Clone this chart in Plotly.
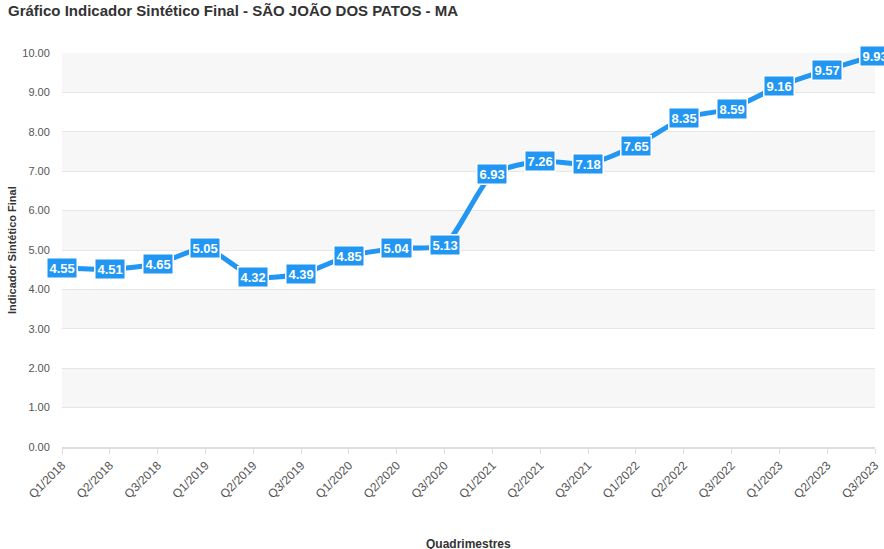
import plotly.graph_objs as go

quadrimestres = ['Q1/2018', 'Q2/2018', 'Q3/2018', 'Q1/2019', 'Q2/2019', 'Q3/2019',
                 'Q1/2020', 'Q2/2020', 'Q3/2020', 'Q1/2021', 'Q2/2021', 'Q3/2021',
                 'Q1/2022', 'Q2/2022', 'Q3/2022', 'Q1/2023', 'Q2/2023', 'Q3/2023']
indicador = [4.55, 4.51, 4.65, 5.05, 4.32, 4.39, 4.85, 5.04, 5.13,
             6.93, 7.26, 7.18, 7.65, 8.35, 8.59, 9.16, 9.57, 9.93]
y_ticks = [0, 1, 2, 3, 4, 5, 6, 7, 8, 9, 10]

blue = 'rgb(33,150,243)'
font = 'Liberation Sans, Arial, sans-serif'

trace = go.Scatter(
    x=quadrimestres,
    y=indicador,
    mode='lines',
    line=dict(color=blue, width=5, shape='spline', smoothing=0.6),
    hoverinfo='x+y'
)
fig = go.Figure(data=[trace])

# alternating background bands
for i in range(1, len(y_ticks) - 1, 2):
    fig.add_shape(type='rect', xref='paper', yref='y', x0=0, x1=1,
                  y0=y_ticks[i], y1=y_ticks[i + 1],
                  fillcolor='#f7f7f7', line=dict(width=0), layer='below')

# value labels
for q, v in zip(quadrimestres, indicador):
    fig.add_annotation(x=q, y=v, xref='x', yref='y', text='<b>%.2f</b>' % v,
                       showarrow=False, bgcolor=blue, bordercolor='white',
                       borderwidth=1.5, borderpad=2,
                       font=dict(family=font, size=13, color='white'))

# axis titles placed by hand
fig.add_annotation(x=0.5, y=0, xref='paper', yref='paper', yanchor='top',
                   yshift=-88, showarrow=False, text='<b>Quadrimestres</b>',
                   font=dict(family=font, size=12, color='#333'))
fig.add_annotation(x=0, y=0.5, xref='paper', yref='paper', xanchor='center',
                   xshift=-50, textangle=-90, showarrow=False,
                   text='<b>Indicador Sintético Final</b>',
                   font=dict(family=font, size=11, color='#333'))

fig.update_layout(
    width=884, height=549,
    margin=dict(l=62, r=9, t=53, b=102),
    paper_bgcolor='white', plot_bgcolor='white',
    showlegend=False,
    font=dict(family=font, color='#444'),
    title=dict(text='<b>Gráfico Indicador Sintético Final - SÃO JOÃO DOS PATOS - MA</b>',
               x=0, xanchor='left', xref='container', yref='container',
               y=1, yanchor='top', pad=dict(t=5, l=8),
               font=dict(size=15, color='#333', family=font)),
)
fig.update_xaxes(
    type='category', range=[0, len(quadrimestres) - 1], automargin=False,
    tickangle=-45, tickfont=dict(size=12, color='#555'),
    showgrid=False, showline=True, linecolor='#dddddd', linewidth=1.5,
    ticks='outside', ticklen=5, tickcolor='#dddddd'
)
fig.update_yaxes(
    range=[0, 10], tickvals=y_ticks, tickformat='.2f', automargin=False,
    tickfont=dict(size=11, color='#555'),
    ticks='outside', ticklen=9, tickcolor='rgba(0,0,0,0)',
    showgrid=True, gridcolor='#e6e6e6', zeroline=False
)

# drop the default 8px page margin so the figure fills the window
fig.write_html('out.html', config={'displayModeBar': False},
               post_script="document.body.style.margin='0';")
